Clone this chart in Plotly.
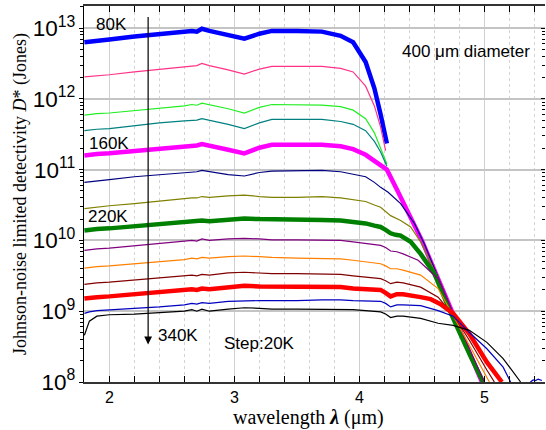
import math
import plotly.graph_objects as go

# Wavelength grid (um) shared by the flat part of every curve
WL_PLATEAU = [1.80, 1.84, 1.90, 2.00, 2.20, 2.40, 2.60, 2.66, 2.70, 2.74, 2.80,
              2.95, 3.08, 3.20, 3.30, 3.50, 3.70, 3.85, 3.95, 4.05, 4.12]

# Johnson-noise limited D* (Jones) per temperature: flat part + cut-off tail
d80 = [6.31e12, 6.46e12, 6.61e12, 6.92e12, 7.59e12, 8.32e12, 8.91e12, 9.12e12, 8.91e12, 9.77e12, 9.12e12,
       7.94e12, 7.08e12, 8.32e12, 9.12e12, 9.12e12, 8.91e12, 7.76e12, 6.31e12, 3.31e12, 1.41e12]
wl80_tail = [4.17, 4.22]
d80_tail = [6.03e11, 2.34e11]

d100 = [2.04e12, 2.06e12, 2.09e12, 2.19e12, 2.40e12, 2.63e12, 2.88e12, 2.95e12, 2.95e12, 3.16e12, 2.95e12,
        2.57e12, 2.24e12, 2.63e12, 2.88e12, 2.88e12, 2.88e12, 2.69e12, 2.40e12, 1.51e12, 7.94e11]
wl100_tail = [4.17, 4.21]
d100_tail = [3.98e11, 1.86e11]

d120 = [5.89e11, 6.03e11, 6.17e11, 6.31e11, 6.76e11, 7.41e11, 7.94e11, 8.32e11, 8.13e11, 8.71e11, 8.32e11,
        7.24e11, 6.31e11, 7.59e11, 8.32e11, 8.32e11, 8.13e11, 7.76e11, 6.92e11, 5.25e11, 3.31e11]
wl120_tail = [4.17, 4.22]
d120_tail = [2.00e11, 1.20e11]

d140 = [3.55e11, 3.63e11, 3.72e11, 3.80e11, 4.17e11, 4.57e11, 4.90e11, 5.01e11, 5.01e11, 5.25e11, 5.01e11,
        4.37e11, 3.80e11, 4.57e11, 5.13e11, 5.13e11, 5.13e11, 4.79e11, 4.37e11, 3.55e11, 2.51e11]
wl140_tail = [4.17, 4.22]
d140_tail = [1.78e11, 1.12e11]

d160 = [1.58e11, 1.62e11, 1.66e11, 1.70e11, 1.82e11, 2.00e11, 2.14e11, 2.19e11, 2.19e11, 2.29e11, 2.19e11,
        1.91e11, 1.70e11, 2.04e11, 2.24e11, 2.24e11, 2.24e11, 2.14e11, 1.95e11, 1.62e11, 1.32e11]
wl160_tail = [4.17, 4.22, 4.30, 4.40, 4.50, 4.62, 4.75, 4.88, 4.98]
d160_tail = [1.17e11, 1.00e11, 5.25e10, 2.34e10, 1.00e10, 3.16e9, 9.33e8, 2.63e8, 1.00e8]

d180 = [6.61e10, 6.76e10, 6.92e10, 7.24e10, 7.94e10, 8.51e10, 9.12e10, 9.33e10, 9.33e10, 9.77e10, 9.33e10,
        8.51e10, 8.13e10, 9.12e10, 9.55e10, 9.77e10, 9.77e10, 9.33e10, 8.71e10, 7.94e10, 6.61e10]
wl180_tail = [4.17, 4.23, 4.33, 4.44, 4.52, 4.62, 4.75, 4.88, 4.99]
d180_tail = [5.62e10, 4.79e10, 3.31e10, 1.74e10, 8.91e9, 3.31e9, 9.33e8, 2.63e8, 1.00e8]

d200 = [2.82e10, 2.88e10, 2.95e10, 3.09e10, 3.31e10, 3.63e10, 3.89e10, 3.98e10, 3.98e10, 4.17e10, 4.07e10,
        4.27e10, 4.37e10, 4.17e10, 4.07e10, 4.07e10, 4.17e10, 3.98e10, 3.80e10, 3.55e10, 3.16e10]
wl200_tail = [4.17, 4.25, 4.33, 4.41, 4.49, 4.62, 4.75, 4.88, 5.00]
d200_tail = [2.95e10, 2.24e10, 1.91e10, 1.55e10, 9.55e9, 3.16e9, 9.33e8, 2.63e8, 1.00e8]

d220 = [1.38e10, 1.41e10, 1.45e10, 1.48e10, 1.58e10, 1.70e10, 1.82e10, 1.86e10, 1.82e10, 1.91e10, 1.86e10,
        1.95e10, 2.04e10, 2.00e10, 2.00e10, 2.00e10, 1.95e10, 1.91e10, 1.82e10, 1.74e10, 1.62e10]
wl220_tail = [4.17, 4.21, 4.25, 4.29, 4.33, 4.41, 4.49, 4.60, 4.75, 4.88, 4.99]
d220_tail = [1.55e10, 1.41e10, 1.26e10, 1.20e10, 1.17e10, 9.55e9, 6.46e9, 3.39e9, 7.94e8, 2.51e8, 1.00e8]

d240 = [7.24e9, 7.41e9, 7.59e9, 7.76e9, 8.32e9, 8.91e9, 9.77e9, 1.00e10, 9.77e9, 1.05e10, 1.00e10,
        1.05e10, 1.07e10, 1.05e10, 1.02e10, 1.02e10, 1.02e10, 1.00e10, 9.55e9, 9.12e9, 8.71e9]
wl240_tail = [4.17, 4.21, 4.25, 4.30, 4.35, 4.47, 4.63, 4.75, 4.88, 5.00]
d240_tail = [8.51e9, 7.94e9, 7.08e9, 6.92e9, 6.46e9, 5.25e9, 2.88e9, 9.55e8, 3.02e8, 1.00e8]

d260 = [4.07e9, 4.17e9, 4.27e9, 4.37e9, 4.68e9, 5.01e9, 5.37e9, 5.62e9, 5.50e9, 5.75e9, 5.62e9,
        5.89e9, 6.03e9, 5.89e9, 5.75e9, 5.62e9, 5.62e9, 5.50e9, 5.25e9, 5.01e9, 4.79e9]
wl260_tail = [4.17, 4.21, 4.25, 4.30, 4.35, 4.49, 4.63, 4.75, 4.88, 5.04]
d260_tail = [4.68e9, 4.37e9, 3.98e9, 3.98e9, 3.80e9, 3.24e9, 2.09e9, 8.71e8, 3.31e8, 1.00e8]

d280 = [2.40e9, 2.45e9, 2.51e9, 2.57e9, 2.75e9, 2.95e9, 3.16e9, 3.24e9, 3.16e9, 3.31e9, 3.24e9,
        3.47e9, 3.55e9, 3.47e9, 3.39e9, 3.39e9, 3.31e9, 3.31e9, 3.16e9, 3.02e9, 2.88e9]
wl280_tail = [4.17, 4.21, 4.25, 4.30, 4.35, 4.49, 4.63, 4.75, 4.88, 5.02, 5.08]
d280_tail = [2.88e9, 2.69e9, 2.45e9, 2.57e9, 2.51e9, 2.19e9, 1.58e9, 8.91e8, 3.89e8, 1.48e8, 1.00e8]

d300 = [1.51e9, 1.55e9, 1.58e9, 1.62e9, 1.74e9, 1.86e9, 2.00e9, 2.04e9, 2.00e9, 2.09e9, 2.04e9,
        2.19e9, 2.29e9, 2.24e9, 2.24e9, 2.24e9, 2.19e9, 2.19e9, 2.09e9, 2.04e9, 2.00e9]
wl300_tail = [4.17, 4.21, 4.25, 4.30, 4.35, 4.49, 4.57, 4.65, 4.75, 4.88, 5.02, 5.14]
d300_tail = [2.00e9, 1.82e9, 1.62e9, 1.74e9, 1.74e9, 1.58e9, 1.48e9, 1.26e9, 9.33e8, 4.79e8, 1.91e8, 1.00e8]

d320 = [9.33e8, 9.77e8, 1.02e9, 1.05e9, 1.10e9, 1.15e9, 1.23e9, 1.29e9, 1.26e9, 1.32e9, 1.29e9,
        1.38e9, 1.41e9, 1.41e9, 1.41e9, 1.41e9, 1.45e9, 1.45e9, 1.41e9, 1.41e9, 1.38e9]
wl320_tail = [4.17, 4.21, 4.25, 4.30, 4.35, 4.49, 4.63, 4.75, 4.88, 5.02, 5.15, 5.21,
              5.30, 5.37, 5.39, 5.41, 5.43, 5.46]
d320_tail = [1.38e9, 1.29e9, 1.15e9, 1.23e9, 1.23e9, 1.20e9, 1.02e9, 8.51e8, 5.01e8, 2.95e8, 1.62e8, 1.00e8,
             6.31e7, 1.00e8, 1.07e8, 1.05e8, 1.10e8, 1.05e8]

d340 = [4.57e8, 7.24e8, 8.51e8, 8.91e8, 9.12e8, 9.55e8, 1.00e9, 1.05e9, 1.00e9, 1.07e9, 1.00e9,
        1.07e9, 1.12e9, 1.10e9, 1.07e9, 1.07e9, 1.07e9, 1.07e9, 1.05e9, 1.02e9, 1.00e9]
wl340_tail = [4.17, 4.21, 4.25, 4.30, 4.35, 4.49, 4.63, 4.75, 4.88, 5.02, 5.15, 5.29]
d340_tail = [9.77e8, 9.12e8, 8.13e8, 8.51e8, 8.51e8, 7.94e8, 6.76e8, 6.31e8, 5.37e8, 3.63e8, 2.14e8, 1.00e8]

TEMPS = ["80K", "100K", "120K", "140K", "160K", "180K", "200K",
         "220K", "240K", "260K", "280K", "300K", "320K", "340K"]
COLORS = ["#0000FF", "#FF3388", "#22EE22", "#008080", "#FF00FF", "#000080", "#808000",
          "#008000", "#800080", "#FF8000", "#800000", "#FF0000", "#0000C0", "#000000"]
WIDTHS = [4.5, 1.2, 1.2, 1.2, 4.5, 1.2, 1.2, 4.5, 1.2, 1.2, 1.2, 4.5, 1.2, 1.2]

FLAT = [d80, d100, d120, d140, d160, d180, d200, d220, d240, d260, d280, d300, d320, d340]
TAIL_WL = [wl80_tail, wl100_tail, wl120_tail, wl140_tail, wl160_tail, wl180_tail, wl200_tail,
           wl220_tail, wl240_tail, wl260_tail, wl280_tail, wl300_tail, wl320_tail, wl340_tail]
TAIL_D = [d80_tail, d100_tail, d120_tail, d140_tail, d160_tail, d180_tail, d200_tail,
          d220_tail, d240_tail, d260_tail, d280_tail, d300_tail, d320_tail, d340_tail]

X_RANGE = [1.797, 5.485]
Y_RANGE = [1e8, 2.05e13]

SANS = "Liberation Sans, Arial, sans-serif"
SERIF = "Liberation Serif, Times New Roman, serif"

fig = go.Figure()
for name, flat, twl, td, col, w in zip(TEMPS, FLAT, TAIL_WL, TAIL_D, COLORS, WIDTHS):
    fig.add_trace(go.Scatter(
        x=WL_PLATEAU + twl, y=flat + td, mode="lines", name=name,
        line=dict(color=col, width=w), showlegend=False, hoverinfo="skip"))

# invisible helper trace so the right-hand tick axis gets drawn
fig.add_trace(go.Scatter(x=[X_RANGE[0]], y=[1e9], yaxis="y2", mode="lines",
                         showlegend=False, hoverinfo="skip", line=dict(width=0)))

L, R, T, B = 84, 1, 6, 48
W, H = 546, 430
pw, ph = W - L - R, H - T - B

def px_x(px):
    return (px - L) / pw

def px_y(py):
    return (H - B - py) / ph

lg = math.log10
annos = []
# temperature sweep arrow
ARROW_WL = 2.31
ARROW_TOP = 1.5e13
ARROW_BOTTOM = 3.4e8
annos.append(dict(x=ARROW_WL, y=lg(ARROW_BOTTOM), ax=ARROW_WL, ay=lg(ARROW_TOP),
                  xref="x", yref="y", axref="x", ayref="y", text="", showarrow=True,
                  arrowhead=2, arrowsize=1.3, arrowwidth=1.2, arrowcolor="black"))

LABELS = [("80K", 2.02, 1.12e13), ("160K", 2.00, 2.35e11), ("220K", 1.99, 2.15e10),
          ("340K", 2.55, 4.6e8), ("Step:20K", 3.20, 3.55e8), ("400 \u03bcm diameter", 4.85, 4.6e12)]
for txt, xv, yv in LABELS:
    annos.append(dict(x=xv, y=lg(yv), xref="x", yref="y", text=txt, showarrow=False,
                      xanchor="center", yanchor="middle",
                      font=dict(family=SANS, size=17, color="black")))

# axis titles
annos.append(dict(x=px_x(20), y=px_y(194), xref="paper", yref="paper", textangle=-90,
                  text="Johnson-noise limited detectivity <i>D</i>* (Jones)", showarrow=False,
                  xanchor="center", yanchor="middle",
                  font=dict(family=SERIF, size=18, color="black")))
annos.append(dict(x=px_x(308), y=px_y(417), xref="paper", yref="paper",
                  text="wavelength <b><i>\u03bb</i></b> (\u03bcm)", showarrow=False,
                  xanchor="center", yanchor="middle",
                  font=dict(family=SERIF, size=20, color="black")))

fig.update_layout(
    width=W, height=H, margin=dict(l=L, r=R, t=T, b=B),
    paper_bgcolor="white", plot_bgcolor="white",
    annotations=annos,
    xaxis=dict(range=X_RANGE, dtick=1, tick0=0, showgrid=True, gridcolor="#D0D0D0", gridwidth=1,
               showline=True, linecolor="#333333", linewidth=1.5, mirror="ticks",
               ticks="inside", ticklen=6, tickcolor="black", zeroline=False,
               tickfont=dict(family=SANS, size=16, color="black"),
               minor=dict(dtick=0.2, showgrid=True, gridcolor="#D4D4D4", griddash="dot",
                          gridwidth=1, ticks="inside", ticklen=6, tickcolor="black")),
    yaxis=dict(type="log", range=[lg(Y_RANGE[0]), lg(Y_RANGE[1])], dtick=1,
               exponentformat="power", showgrid=True, gridcolor="#C4C4C4", gridwidth=1.5,
               showline=True, linecolor="black", linewidth=1.2, ticks="outside", ticklen=4,
               tickcolor="black", zeroline=False,
               tickfont=dict(family=SANS, size=18, color="black"),
               minor=dict(dtick="D1", ticks="outside", ticklen=3, tickcolor="black", showgrid=False)),
    yaxis2=dict(type="log", range=[lg(Y_RANGE[0]), lg(Y_RANGE[1])], dtick=1, overlaying="y",
                side="right", showgrid=False, showline=False, showticklabels=False,
                ticks="inside", ticklen=4, tickcolor="black", zeroline=False,
                minor=dict(dtick="D1", ticks="inside", ticklen=3, tickcolor="black", showgrid=False)),
)

fig.write_html("out.html")
